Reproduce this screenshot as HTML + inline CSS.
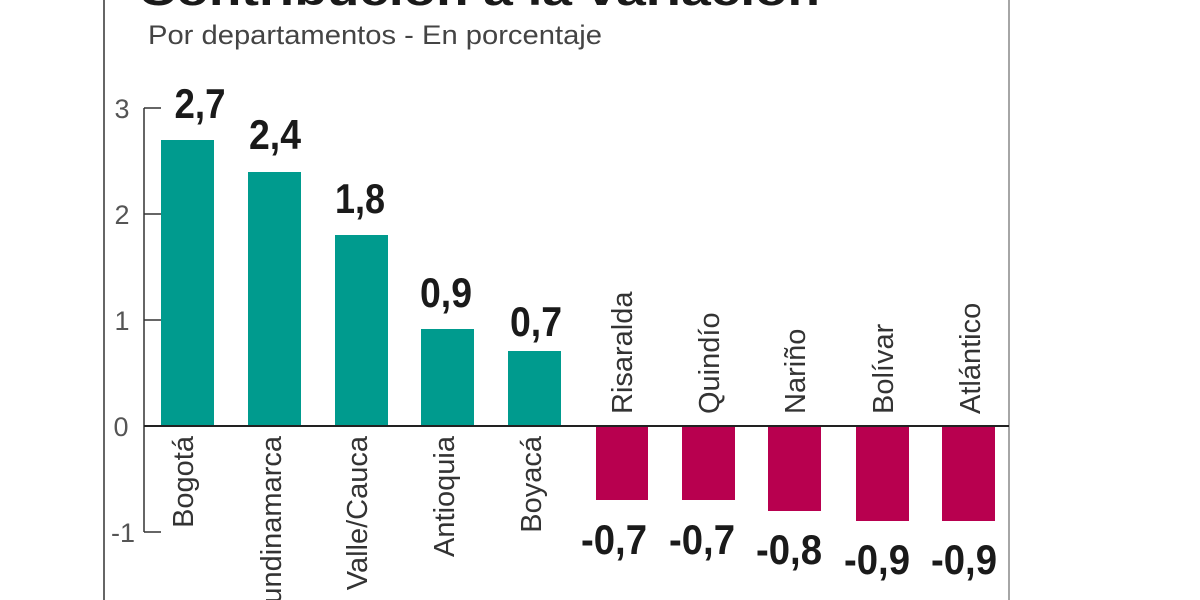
<!DOCTYPE html>
<html><head><meta charset="utf-8"><style>
html,body{margin:0;padding:0;background:#fff;}
svg{display:block;}
.cat{font-family:"Liberation Sans",sans-serif;font-size:29px;fill:#333;}
.val{font-family:"Liberation Sans",sans-serif;font-size:42px;font-weight:bold;fill:#1a1a1a;}
.tick{font-family:"Liberation Sans",sans-serif;font-size:27px;fill:#555;}
</style></head><body>
<svg width="1200" height="600" viewBox="0 0 1200 600" xmlns="http://www.w3.org/2000/svg">
<rect width="1200" height="600" fill="#fff"/>
<line x1="104" y1="0" x2="104" y2="600" stroke="#666" stroke-width="2"/>
<line x1="1009" y1="0" x2="1009" y2="600" stroke="#888" stroke-width="1.5"/>
<text x="138" y="5" font-family="Liberation Sans,sans-serif" font-weight="bold" font-size="42" fill="#1a1a1a" textLength="682" lengthAdjust="spacingAndGlyphs">Contribución a la variación</text>
<text x="148" y="44" font-family="Liberation Sans,sans-serif" font-size="27" fill="#444" textLength="454" lengthAdjust="spacingAndGlyphs">Por departamentos - En porcentaje</text>
<line x1="144" y1="108" x2="144" y2="532" stroke="#333" stroke-width="1.5"/>
<g stroke="#333" stroke-width="1.5">
<line x1="144" y1="108" x2="161" y2="108"/>
<line x1="144" y1="214" x2="161" y2="214"/>
<line x1="144" y1="320" x2="161" y2="320"/>
<line x1="144" y1="532" x2="161" y2="532"/>
</g>
<g class="tick" text-anchor="middle">
<text x="122" y="118">3</text>
<text x="122" y="224">2</text>
<text x="122" y="330">1</text>
<text x="121" y="436">0</text>
<text x="123" y="542">-1</text>
</g>
<g fill="#009B8E">
<rect x="161" y="140" width="53" height="286"/>
<rect x="248" y="172" width="53" height="254"/>
<rect x="335" y="235" width="53" height="191"/>
<rect x="421" y="329" width="53" height="97"/>
<rect x="508" y="351" width="53" height="75"/>
</g>
<g fill="#B8004F">
<rect x="596" y="426" width="52" height="74"/>
<rect x="682" y="426" width="53" height="74"/>
<rect x="768" y="426" width="53" height="85"/>
<rect x="856" y="426" width="53" height="95"/>
<rect x="942" y="426" width="53" height="95"/>
</g>
<line x1="144" y1="426" x2="1009" y2="426" stroke="#222" stroke-width="2"/>
<g class="val" text-anchor="middle">
<text x="200" y="118" textLength="51" lengthAdjust="spacingAndGlyphs">2,7</text>
<text x="275" y="149" textLength="52" lengthAdjust="spacingAndGlyphs">2,4</text>
<text x="360" y="213" textLength="50" lengthAdjust="spacingAndGlyphs">1,8</text>
<text x="446" y="307" textLength="52" lengthAdjust="spacingAndGlyphs">0,9</text>
<text x="536" y="336" textLength="52" lengthAdjust="spacingAndGlyphs">0,7</text>
<text x="614" y="554" textLength="66" lengthAdjust="spacingAndGlyphs">-0,7</text>
<text x="702" y="554" textLength="66" lengthAdjust="spacingAndGlyphs">-0,7</text>
<text x="789" y="564" textLength="66" lengthAdjust="spacingAndGlyphs">-0,8</text>
<text x="877" y="574" textLength="66" lengthAdjust="spacingAndGlyphs">-0,9</text>
<text x="964" y="574" textLength="66" lengthAdjust="spacingAndGlyphs">-0,9</text>
</g>
<g class="cat" text-anchor="end">
<text transform="translate(193,436) rotate(-90)">Bogotá</text>
<text transform="translate(281,436) rotate(-90)">Cundinamarca</text>
<text transform="translate(367,436) rotate(-90)">Valle/Cauca</text>
<text transform="translate(454,436) rotate(-90)">Antioquia</text>
<text transform="translate(541,436) rotate(-90)">Boyacá</text>
</g>
<g class="cat" text-anchor="start">
<text transform="translate(632,414) rotate(-90)">Risaralda</text>
<text transform="translate(719,414) rotate(-90)">Quindío</text>
<text transform="translate(805,414) rotate(-90)">Nariño</text>
<text transform="translate(893,414) rotate(-90)">Bolívar</text>
<text transform="translate(980,414) rotate(-90)">Atlántico</text>
</g>
</svg>
</body></html>
